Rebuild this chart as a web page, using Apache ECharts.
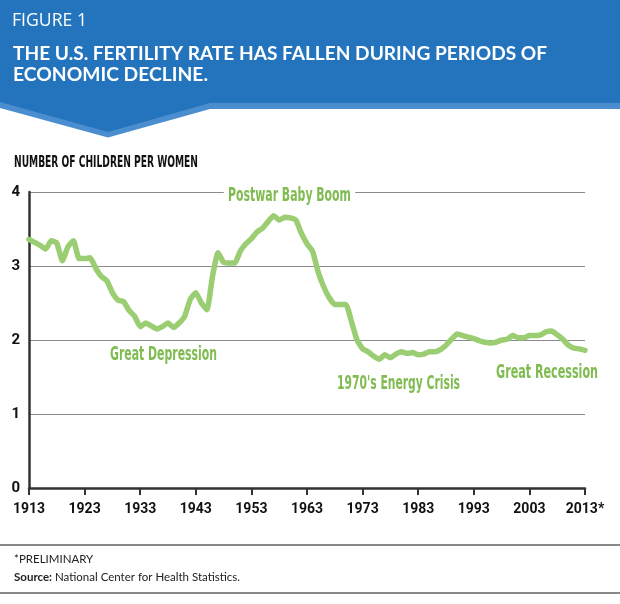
<!DOCTYPE html>
<html><head><meta charset="utf-8">
<script src="https://cdn.jsdelivr.net/npm/echarts@6/dist/echarts.min.js"></script>
<style>html,body{margin:0;padding:0;background:#fff}#c{width:620px;height:604px}</style>
</head><body><div id="c"></div>
<script>
// ---- data ----
const years = [];
for (let y = 1913; y <= 2013; y++) years.push(String(y));
const fertility = [
  3.36, 3.32, 3.28, 3.23, 3.34, 3.31, 3.07, 3.26, 3.34, 3.10,   // 1913-1922
  3.10, 3.11, 2.97, 2.86, 2.80, 2.64, 2.54, 2.52, 2.40, 2.32,   // 1923-1932
  2.18, 2.23, 2.19, 2.15, 2.18, 2.23, 2.17, 2.23, 2.32, 2.55,   // 1933-1942
  2.64, 2.50, 2.41, 2.86, 3.18, 3.05, 3.04, 3.04, 3.20, 3.30,   // 1943-1952
  3.37, 3.46, 3.51, 3.60, 3.68, 3.62, 3.66, 3.65, 3.62, 3.44,   // 1953-1962
  3.30, 3.20, 2.92, 2.72, 2.57, 2.48, 2.48, 2.48, 2.25, 2.00,   // 1963-1972
  1.88, 1.84, 1.78, 1.74, 1.80, 1.76, 1.81, 1.84, 1.82, 1.83,   // 1973-1982
  1.80, 1.81, 1.84, 1.84, 1.87, 1.93, 2.01, 2.08, 2.06, 2.04,   // 1983-1992
  2.02, 1.99, 1.97, 1.96, 1.97, 2.00, 2.01, 2.06, 2.03, 2.03,   // 1993-2002
  2.06, 2.06, 2.07, 2.11, 2.12, 2.07, 2.01, 1.93, 1.89, 1.88,   // 2003-2012
  1.86                                                          // 2013
];
const preliminaryYear = '2013';
const annotationLabels = ['Postwar Baby Boom', 'Great Depression', "1970's Energy Crisis", 'Great Recession'];
const headerTexts = ['FIGURE 1', 'THE U.S. FERTILITY RATE HAS FALLEN DURING PERIODS OF', 'ECONOMIC DECLINE.'];
const yAxisTitle = 'NUMBER OF CHILDREN PER WOMEN';
const footnote = '*PRELIMINARY';
const sourceLabel = 'Source:';
const sourceText = ' National Center for Health Statistics.';

// ---- styling helpers ----
const NARROW = "'Liberation Sans Narrow','DejaVu Sans Condensed','Roboto Condensed',sans-serif";
const TICKF = "Roboto,'Liberation Sans',sans-serif";
const HUMAN = "Lato,'Open Sans',sans-serif";
const cv = document.createElement('canvas').getContext('2d');
function fit(text, weight, size, family, w) {
  cv.font = weight + ' ' + size + 'px ' + family;
  return w / cv.measureText(text).width;
}
function fitText(text, x, yMid, w, size, weight, family, color, extra) {
  return {
    type: 'text', x: x, y: yMid, z: 100,
    scaleX: fit(text, weight, size, family, w),
    style: Object.assign({
      text: text, fill: color, fontSize: size, fontWeight: weight, fontFamily: family,
      textAlign: 'left', textVerticalAlign: 'middle', align: 'left', verticalAlign: 'middle'
    }, extra || {})
  };
}
const GREEN_TXT = '#80BC52';
const annPos = [
  {x: 228, y: 196, w: 123},
  {x: 110, y: 355, w: 107},
  {x: 337, y: 384, w: 123},
  {x: 496, y: 373, w: 102}
];
const annElems = annotationLabels.map((t, i) => {
  const p = annPos[i];
  const extra = i === 0 ? {backgroundColor: '#fff', padding: [2, 7]} : null;
  const el = fitText(t, p.x, p.y, p.w, 20, 'bold', NARROW, GREEN_TXT, extra);
  if (i === 0) { el.x = p.x - 7 * el.scaleX; }
  return el;
});

const chart = echarts.init(document.getElementById('c'));
chart.setOption({
  animation: false,
  backgroundColor: '#fff',
  grid: {left: 29, right: 35, top: 192, bottom: 116, containLabel: false},
  xAxis: {
    type: 'category', data: years, boundaryGap: false,
    axisLine: {show: true, lineStyle: {color: '#333', width: 2.5}},
    axisTick: {show: true, interval: 9, length: 7, lineStyle: {color: '#333', width: 2}},
    axisLabel: {
      interval: 9, margin: 14, color: '#111', fontSize: 14, fontWeight: 'bold', fontFamily: TICKF,
      formatter: v => v === preliminaryYear ? v + '*' : v
    },
    splitLine: {show: false}
  },
  yAxis: {
    type: 'value', min: 0, max: 4, interval: 1,
    axisLine: {show: true, lineStyle: {color: '#333', width: 2.5}},
    axisTick: {show: false},
    axisLabel: {margin: 9, color: '#111', fontSize: 15, fontWeight: 'bold', fontFamily: TICKF},
    splitLine: {show: true, lineStyle: {color: '#8a8a8a', width: 1}}
  },
  series: [{
    type: 'line', data: fertility, symbol: 'none', smooth: 0.15,
    lineStyle: {color: '#9BCE72', width: 5.5, cap: 'round', join: 'round'},
    z: 3
  }],
  graphic: [
    // header band
    {type: 'polygon', z: 90, shape: {points: [[0, 98], [620, 98], [620, 109], [210, 109], [108, 137.5], [0, 108]]}, style: {fill: '#4A8ED0'}},
    {type: 'polygon', z: 91, shape: {points: [[0, 0], [620, 0], [620, 103], [210, 103], [108, 132], [0, 102]]}, style: {fill: '#2374BD'}},
    fitText(headerTexts[0], 12, 21, 75, 19, 'normal', "'Open Sans',Lato,sans-serif", '#fff'),
    fitText(headerTexts[1], 13, 54, 534, 19, 'bold', HUMAN, '#fff'),
    fitText(headerTexts[2], 13, 75, 195, 19, 'bold', HUMAN, '#fff'),
    // y axis title
    fitText(yAxisTitle, 14, 163, 184, 16, 'bold', NARROW, '#111'),
    // annotations
    ...annElems,
    // footer
    {type: 'line', z: 100, shape: {x1: 0, y1: 545, x2: 620, y2: 545}, style: {stroke: '#111', lineWidth: 1.2}},
    {type: 'line', z: 100, shape: {x1: 0, y1: 593, x2: 620, y2: 593}, style: {stroke: '#111', lineWidth: 1.2}},
    {type: 'text', z: 100, x: 14, y: 559, style: {text: footnote, fill: '#222', fontSize: 11.5, fontFamily: HUMAN, textVerticalAlign: 'middle', verticalAlign: 'middle'}},
    {type: 'text', z: 100, x: 14, y: 577, style: {
      text: '{b|' + sourceLabel + '}' + sourceText, fill: '#222', fontSize: 11.5, fontFamily: HUMAN,
      textVerticalAlign: 'middle', verticalAlign: 'middle',
      rich: {b: {fontWeight: 'bold', fontSize: 11.5, fontFamily: HUMAN, fill: '#222'}}
    }}
  ]
});
</script>
</body></html>
